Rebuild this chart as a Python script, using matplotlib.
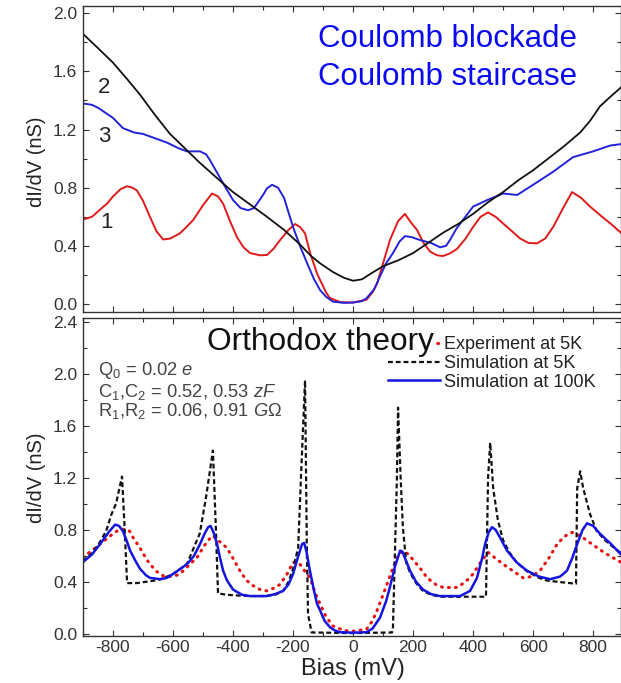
import numpy as np
import matplotlib
matplotlib.use('Agg')
import matplotlib.pyplot as plt
from matplotlib.ticker import MultipleLocator, FormatStrFormatter

plt.rcParams['font.family'] = ['Liberation Sans', 'DejaVu Sans']
plt.rcParams['mathtext.fontset'] = 'custom'
plt.rcParams['mathtext.rm'] = 'Liberation Sans'
plt.rcParams['mathtext.it'] = 'Liberation Sans:italic'
plt.rcParams['axes.unicode_minus'] = False

# ---- top panel: measured dI/dV curves (bias in mV, dI/dV in nS)
c2_x = [-901, -850, -800, -750, -710, -660, -610, -560, -510, -450, -400, -340, -287, -230,
        -177, -140, -110, -67, -30, 0, 30, 60, 100, 150, 200, 250, 300, 350, 400, 450, 500,
        550, 600, 650, 700, 757, 790, 823, 860, 893]
c2_y = [1.86, 1.76, 1.66, 1.54, 1.44, 1.30, 1.17, 1.07, 0.97, 0.86, 0.77, 0.68, 0.60, 0.51,
        0.41, 0.33, 0.28, 0.22, 0.18, 0.16, 0.17, 0.21, 0.26, 0.30, 0.35, 0.42, 0.49, 0.55, 0.62,
        0.70, 0.77, 0.85, 0.92, 1.00, 1.08, 1.18, 1.26, 1.36, 1.43, 1.49]

c3_x = [-901, -870, -850, -800, -767, -730, -700, -660, -620, -580, -553, -510, -490, -477,
        -455, -433, -400, -375, -350, -330, -300, -287, -270, -250, -230, -200, -177, -153,
        -130, -110, -90, -67, -30, 0, 30, 45, 70, 90, 110, 133, 155, 173, 195, 223, 260, 290,
        310, 323, 345, 367, 400, 447, 500, 547, 600, 667, 733, 800, 857, 893]
c3_y = [1.38, 1.37, 1.35, 1.28, 1.21, 1.18, 1.17, 1.14, 1.11, 1.07, 1.05, 1.05, 1.03, 0.99,
        0.91, 0.83, 0.715, 0.66, 0.645, 0.66, 0.75, 0.795, 0.82, 0.80, 0.73, 0.53, 0.40, 0.28,
        0.17, 0.096, 0.05, 0.016, 0.008, 0.01, 0.02, 0.04, 0.10, 0.19, 0.28, 0.35, 0.43, 0.467,
        0.46, 0.44, 0.42, 0.39, 0.40, 0.44, 0.52, 0.58, 0.67, 0.715, 0.76, 0.75, 0.82, 0.91,
        1.01, 1.05, 1.09, 1.10]

c1_x = [-901, -870, -843, -820, -800, -775, -753, -735, -720, -700, -677, -655, -633, -610,
        -577, -555, -533, -500, -470, -450, -433, -410, -387, -365, -343, -310, -287, -265,
        -243, -215, -193, -177, -160, -143, -120, -110, -90, -77, -40, 0, 45, 65, 80, 100, 123,
        150, 173, 193, 213, 235, 257, 280, 300, 325, 347, 375, 400, 425, 450, 475, 500, 530,
        557, 585, 613, 640, 667, 700, 730, 760, 790, 830, 860, 893]
c1_y = [0.58, 0.60, 0.65, 0.69, 0.74, 0.79, 0.81, 0.80, 0.78, 0.71, 0.60, 0.50, 0.444, 0.45,
        0.486, 0.53, 0.577, 0.68, 0.76, 0.74, 0.69, 0.57, 0.46, 0.39, 0.35, 0.335, 0.337, 0.38,
        0.44, 0.51, 0.55, 0.53, 0.486, 0.35, 0.21, 0.165, 0.08, 0.04, 0.012, 0.01, 0.03, 0.08,
        0.14, 0.28, 0.44, 0.57, 0.62, 0.56, 0.51, 0.42, 0.36, 0.335, 0.33, 0.35, 0.38, 0.45,
        0.53, 0.60, 0.63, 0.60, 0.554, 0.50, 0.45, 0.42, 0.417, 0.45, 0.53, 0.66, 0.77, 0.73,
        0.67, 0.60, 0.55, 0.49]

# ---- bottom panel: experiment vs orthodox theory
exp_x = [-901, -870, -843, -800, -780, -760, -745, -733, -710, -690, -677, -655, -633, -600,
         -577, -550, -520, -495, -475, -467, -450, -420, -400, -377, -355, -333, -310, -287,
         -265, -243, -220, -200, -190, -177, -167, -143, -133, -120, -110, -90, -67, -30, 0,
         45, 65, 80, 95, 113, 130, 147, 167, 185, 200, 225, 247, 275, 300, 347, 375, 400, 425,
         450, 475, 500, 535, 567, 595, 623, 655, 680, 705, 730, 760, 790, 840, 893]
exp_y = [0.59, 0.64, 0.69, 0.77, 0.80, 0.805, 0.79, 0.74, 0.66, 0.58, 0.536, 0.48, 0.446, 0.44,
         0.46, 0.52, 0.587, 0.68, 0.74, 0.754, 0.72, 0.66, 0.58, 0.485, 0.41, 0.37, 0.34, 0.33,
         0.35, 0.38, 0.46, 0.55, 0.55, 0.536, 0.50, 0.43, 0.36, 0.28, 0.23, 0.13, 0.06, 0.025,
         0.02, 0.035, 0.10, 0.18, 0.27, 0.38, 0.49, 0.587, 0.64, 0.61, 0.57, 0.50, 0.43, 0.38,
         0.356, 0.356, 0.40, 0.46, 0.55, 0.626, 0.58, 0.536, 0.48, 0.43, 0.44, 0.485, 0.59,
         0.69, 0.75, 0.78, 0.75, 0.70, 0.62, 0.55]

sim5_x = [-901, -870, -845, -823, -805, -790, -770, -761, -753, -720, -690, -660, -640, -620,
          -600, -575, -553, -533, -511, -490, -467, -457, -450, -420, -390, -343, -300, -260,
          -233, -215, -200, -183, -174, -160, -154, -150, -138, 0, 130, 133, 146, 150, 159, 166,
          177, 190, 210, 233, 260, 290, 443, 450, 457, 467, 483, 500, 520, 545, 580, 620, 645,
          700, 743, 747, 757, 767, 790, 812, 840, 860, 893]
sim5_y = [0.56, 0.62, 0.70, 0.79, 0.92, 1.00, 1.21, 0.80, 0.39, 0.39, 0.40, 0.41, 0.42, 0.44,
          0.46, 0.50, 0.54, 0.65, 0.77, 1.05, 1.41, 0.80, 0.31, 0.30, 0.295, 0.29, 0.29, 0.30,
          0.33, 0.40, 0.50, 0.66, 1.18, 1.95, 0.66, 0.15, 0.01, 0.005, 0.01, 0.05, 1.18, 1.74,
          1.18, 0.82, 0.55, 0.47, 0.39, 0.33, 0.30, 0.285, 0.285, 1.20, 1.47, 1.12, 0.87, 0.72,
          0.63, 0.55, 0.48, 0.43, 0.41, 0.395, 0.385, 1.12, 1.25, 1.12, 0.92, 0.79, 0.72, 0.68,
          0.62]

sim100_x = [-901, -870, -843, -815, -793, -780, -767, -755, -743, -725, -710, -690, -677, -643,
            -620, -600, -575, -553, -530, -510, -495, -483, -475, -465, -453, -443, -433, -420,
            -400, -370, -343, -287, -260, -233, -215, -200, -185, -170, -163, -155, -145, -130,
            -120, -110, -95, -77, -60, -43, 0, 45, 65, 90, 110, 123, 140, 157, 165, 175, 190,
            210, 233, 260, 290, 357, 390, 413, 430, 440, 452, 463, 475, 490, 513, 545, 580, 620,
            657, 690, 713, 730, 747, 765, 780, 800, 823, 860, 893]
sim100_y = [0.55, 0.61, 0.69, 0.78, 0.84, 0.83, 0.79, 0.72, 0.64, 0.56, 0.50, 0.45, 0.43, 0.42,
            0.43, 0.46, 0.50, 0.536, 0.60, 0.69, 0.77, 0.82, 0.83, 0.78, 0.69, 0.58, 0.485, 0.41,
            0.34, 0.30, 0.29, 0.29, 0.305, 0.33, 0.38, 0.46, 0.58, 0.69, 0.70, 0.63, 0.50, 0.33,
            0.23, 0.18, 0.10, 0.05, 0.025, 0.012, 0.008, 0.012, 0.04, 0.125, 0.25, 0.36, 0.52,
            0.64, 0.63, 0.57, 0.485, 0.40, 0.34, 0.305, 0.29, 0.29, 0.33, 0.43, 0.58, 0.69, 0.78,
            0.82, 0.80, 0.74, 0.64, 0.55, 0.485, 0.44, 0.42, 0.44, 0.485, 0.58, 0.69, 0.80, 0.85,
            0.83, 0.77, 0.69, 0.61]

W, H = 621, 683
fig = plt.figure(figsize=(W / 100, H / 100), dpi=100)
ax1 = fig.add_axes([82.7 / W, 1 - 311.7 / H, (621 - 82.7) / W, 305.7 / H])
ax2 = fig.add_axes([82.7 / W, 1 - 635.7 / H, (621 - 82.7) / W, 317.7 / H])

tc = '#333333'
for ax in (ax1, ax2):
    ax.set_xlim(-901, 893)
    ax.xaxis.set_major_locator(MultipleLocator(200))
    ax.xaxis.set_minor_locator(MultipleLocator(100))
    ax.yaxis.set_major_locator(MultipleLocator(0.4))
    ax.yaxis.set_minor_locator(MultipleLocator(0.2))
    ax.yaxis.set_major_formatter(FormatStrFormatter('%.1f'))
    ax.tick_params(which='both', direction='in', top=True, right=True, width=0.8,
                   color=tc, labelcolor=tc, labelsize=12.5)
    ax.tick_params(which='major', length=4.5, pad=4)
    ax.tick_params(which='minor', length=2.8)
    for s in ax.spines.values():
        s.set_color(tc)
        s.set_linewidth(1.0)

ax1.set_ylim(-0.053, 2.05)
ax1.tick_params(labelbottom=False)
ax2.set_ylim(-0.015, 2.43)
ax2.tick_params(axis='x', pad=3)

ax1.plot(c1_x, c1_y, color='#e01a1a', lw=1.4)
ax1.plot(c3_x, c3_y, color='#2222d8', lw=1.4)
ax1.plot(c2_x, c2_y, color='#111111', lw=1.3)
ax1.text(0.0284, 0.7154, '2', transform=ax1.transAxes, fontsize=16, color='#222222')
ax1.text(0.0284, 0.555, '3', transform=ax1.transAxes, fontsize=16, color='#222222')
ax1.text(0.032, 0.2738, '1', transform=ax1.transAxes, fontsize=16, color='#222222')
ax1.text(0.437, 0.866, 'Coulomb blockade', transform=ax1.transAxes, fontsize=22.5, color='#0a0af0')
ax1.text(0.437, 0.7416, 'Coulomb staircase', transform=ax1.transAxes, fontsize=22.5, color='#0a0af0')

ax2.plot(exp_x, exp_y, color='#e81010', lw=2.2, linestyle=(0, (0.3, 2.0)),
         dash_capstyle='round', label='Experiment at 5K')
ax2.plot(sim5_x, sim5_y, color='#111111', lw=1.6, linestyle=(0, (2.2, 1.3)),
         label='Simulation at 5K')
ax2.plot(sim100_x, sim100_y, color='#1515e0', lw=1.8, label='Simulation at 100K')

leg = ax2.legend(loc='upper left', bbox_to_anchor=(0.567, 0.943), frameon=False,
                 fontsize=13, handlelength=2.9, handletextpad=0.2, labelspacing=0.1,
                 borderpad=0, borderaxespad=0)
for t in leg.get_texts():
    t.set_color('#222222')

ax2.text(0.231, 0.899, 'Orthodox theory', transform=ax2.transAxes, fontsize=22.8, color='#111111',
         zorder=10, bbox=dict(facecolor='white', edgecolor='none', pad=0.5))
ac = '#444444'
ax2.text(0.0284, 0.8206, r'Q$_0$ = 0.02 $e$', transform=ax2.transAxes, fontsize=13.2, color=ac)
ax2.text(0.0284, 0.7513, r'C$_1$,C$_2$ = 0.52, 0.53 $zF$', transform=ax2.transAxes,
         fontsize=13.2, color=ac)
ax2.text(0.0284, 0.6915, r'R$_1$,R$_2$ = 0.06, 0.91 $G\Omega$', transform=ax2.transAxes,
         fontsize=13.2, color=ac)

fig.text(37 / W, 1 - 162 / H, 'dI/dV (nS)', rotation=90, ha='center', va='center',
         fontsize=14.5, color='#222222')
fig.text(37 / W, 1 - 478 / H, 'dI/dV (nS)', rotation=90, ha='center', va='center',
         fontsize=14.5, color='#222222')
fig.text(353 / W, 1 - 675 / H, 'Bias (mV)', ha='center', va='baseline', fontsize=17,
         color='#222222')

fig.savefig('out.png', dpi=100)
